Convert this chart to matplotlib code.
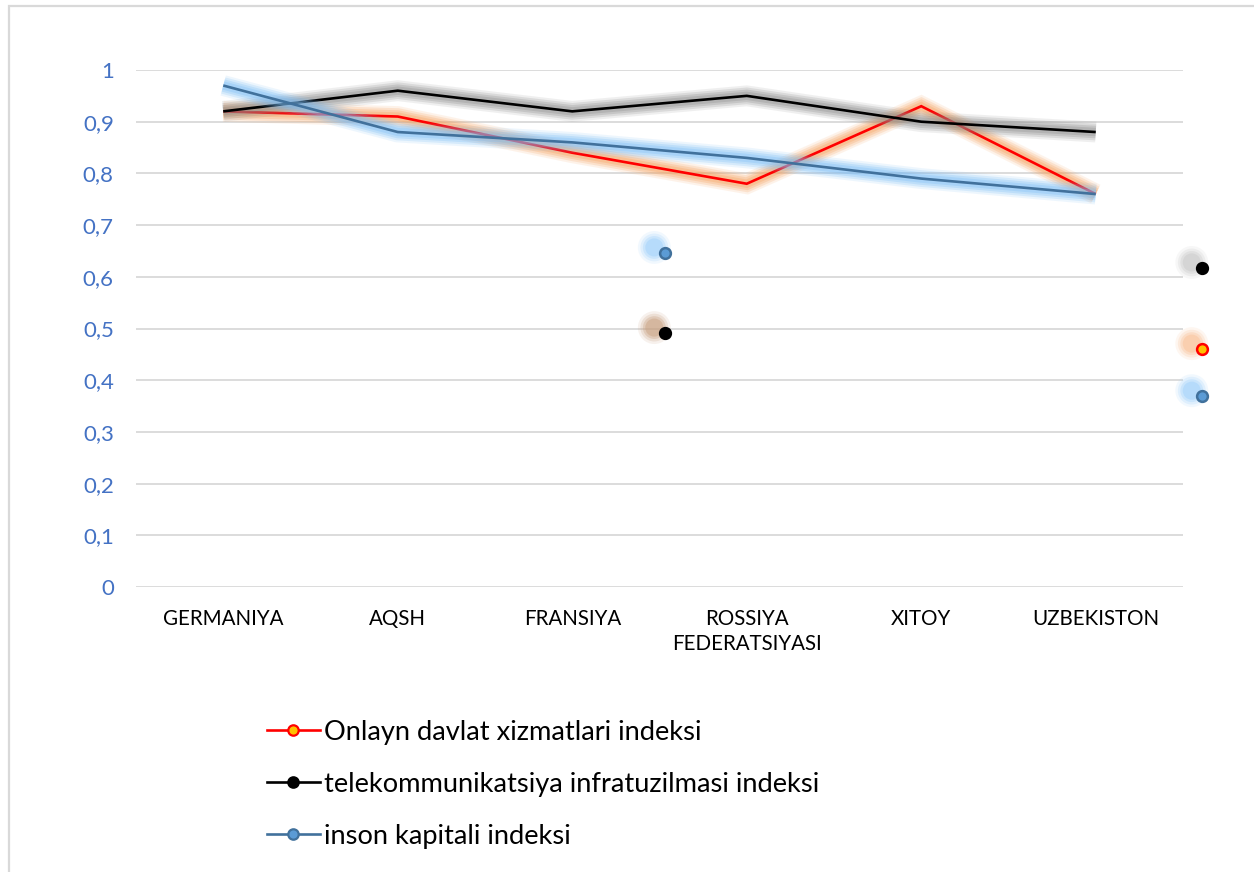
import matplotlib
matplotlib.use("Agg")
import matplotlib.pyplot as plt
from matplotlib.lines import Line2D
from matplotlib.patches import Rectangle
import matplotlib.patheffects as pe
import matplotlib.transforms as mtransforms

plt.rcParams['font.family'] = ['Lato', 'DejaVu Sans']

categories = ["GERMANIYA", "AQSH", "FRANSIYA", "ROSSIYA\nFEDERATSIYASI", "XITOY", "UZBEKISTON"]
onlayn = [0.92, 0.91, 0.84, 0.78, 0.93, 0.76]
telekom = [0.92, 0.96, 0.92, 0.95, 0.90, 0.88]
inson = [0.97, 0.88, 0.86, 0.83, 0.79, 0.76]
series_names = ["Onlayn davlat xizmatlari indeksi",
                "telekommunikatsiya infratuzilmasi indeksi",
                "inson kapitali indeksi"]
yticks = [0, 0.1, 0.2, 0.3, 0.4, 0.5, 0.6, 0.7, 0.8, 0.9, 1.0]

# stray marker artefacts seen in the picture (x in category units, y in value units)
stray_x = [2.53, 2.53, 5.61, 5.61, 5.61]
stray_y = [0.646, 0.491, 0.617, 0.460, 0.369]
stray_series = [2, 1, 1, 0, 2]

line_colors = ["#ff0000", "#000000", "#41719c"]
glow_colors = ["#f7a15c", "#8a8a8a", "#79bcf6"]
marker_face = ["#ffc000", "#000000", "#5b9bd5"]
marker_edge = ["#ff0000", "#000000", "#41719c"]
stray_glow = {(2, 0): "#9fd0fa", (1, 0): "#c8a080", (1, 1): "#c8c8c8", (0, 1): "#f9c096", (2, 1): "#9fd0fa"}

W, H = 1254, 872
fig = plt.figure(figsize=(W / 100, H / 100), dpi=100)

# outer border
fig.patches.append(Rectangle((8.5 / W, -0.1), 1.2, (H - 5.5) / H + 0.1,
                             transform=fig.transFigure, fill=False,
                             edgecolor="#d9d9d9", linewidth=1.6))

ax = fig.add_axes([136 / W, 1 - 587 / H, (1183 - 136) / W, (587 - 70) / H])
ax.set_xlim(-0.5, len(categories) - 0.5)
ax.set_ylim(0, 1)
for s in ax.spines.values():
    s.set_visible(False)
ax.set_yticks(yticks)
ax.set_yticklabels([("%g" % v).replace(".", ",") for v in yticks],
                   color="#4472c4", fontsize=16)
ax.set_xticks(range(len(categories)))
ax.set_xticklabels(categories, fontsize=14.8, color="#000000", linespacing=1.3)
ax.tick_params(axis="both", length=0)
ax.tick_params(axis="y", pad=16)
ax.tick_params(axis="x", pad=16)
ax.yaxis.grid(True, color="#d9d9d9", linewidth=1.3)
ax.set_axisbelow(True)

xs = list(range(len(categories)))
for i, vals in enumerate([onlayn, telekom, inson]):
    effects = [pe.Stroke(linewidth=w, foreground=glow_colors[i], alpha=a)
               for w, a in [(15, 0.13), (12, 0.2), (9, 0.26), (6, 0.3)]] + [pe.Normal()]
    ax.plot(xs, vals, color=line_colors[i], linewidth=1.9, zorder=3,
            path_effects=effects, solid_joinstyle="miter", solid_capstyle="butt")

# stray markers with offset glow
glow_tr = mtransforms.offset_copy(ax.transData, fig=fig, x=-7.5, y=4.0, units="points")
for k, (x, y, s) in enumerate(zip(stray_x, stray_y, stray_series)):
    gcol = stray_glow[(s, 0 if x < 4 else 1)]
    for size, a in [(560, 0.14), (400, 0.22), (270, 0.32), (170, 0.45)]:
        ax.scatter([x], [y], s=size, color=gcol, alpha=a, edgecolors="none",
                   transform=glow_tr, clip_on=False, zorder=4)
    ax.scatter([x], [y], s=60, facecolor=marker_face[s], edgecolor=marker_edge[s],
               linewidth=1.8, clip_on=False, zorder=6)

handles = [Line2D([0], [0], color=line_colors[i], linewidth=1.9, marker="o",
                  markersize=7.5, markerfacecolor=marker_face[i],
                  markeredgecolor=marker_edge[i], markeredgewidth=1.6)
           for i in range(3)]
fig.legend(handles, series_names, loc="upper left",
           bbox_to_anchor=(242 / W, 1 - 695 / H), frameon=False,
           fontsize=19.6, handlelength=1.95, handletextpad=0.15,
           labelspacing=1.0, markerfirst=True)

fig.savefig("out.png", dpi=100)
